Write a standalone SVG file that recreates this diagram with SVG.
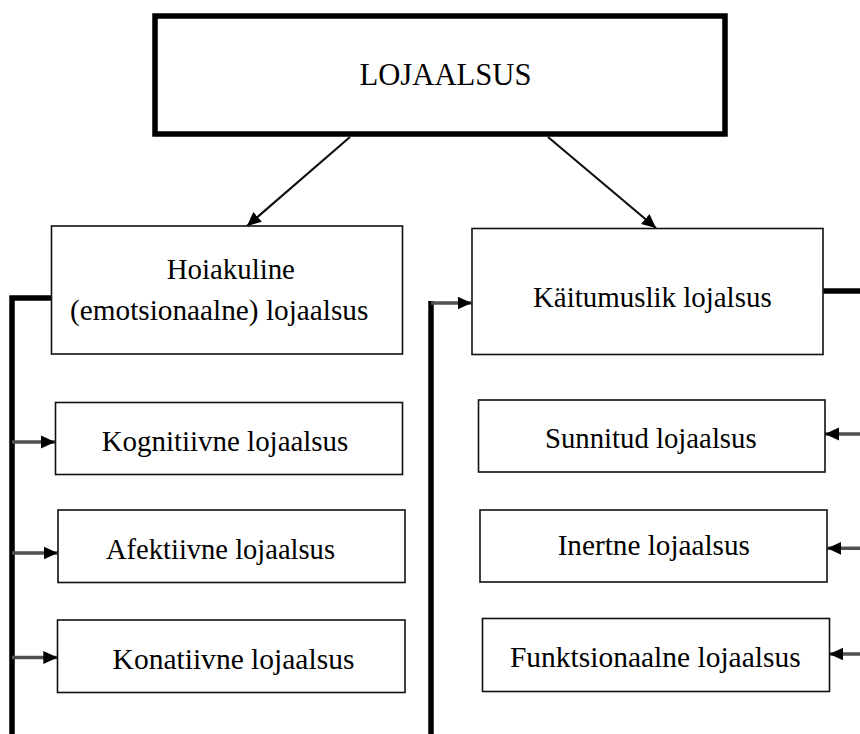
<svg xmlns="http://www.w3.org/2000/svg" width="860" height="734" viewBox="0 0 860 734">
<style>
.box{fill:#fff;stroke:#111;stroke-width:1.6}
.top{fill:#fff;stroke:#000;stroke-width:5.5}
.t{font-family:"Liberation Serif","Times New Roman",serif;font-size:29px;fill:#000;text-anchor:middle}
.thick{fill:none;stroke:#000;stroke-width:5.5}
.thin{fill:none;stroke:#505050;stroke-width:3.5}
.diag{fill:none;stroke:#111;stroke-width:2.2}
</style>
<defs>
<marker id="ah" markerUnits="userSpaceOnUse" markerWidth="14" markerHeight="14" refX="14" refY="7" orient="auto">
<path d="M0,0.5 L14,7 L0,13.5 z" fill="#000"/>
</marker>
<marker id="ad" markerUnits="userSpaceOnUse" markerWidth="14" markerHeight="13" refX="14" refY="6.5" orient="auto">
<path d="M0,0 L14,6.5 L0,13 z" fill="#000"/>
</marker>
</defs>
<rect width="860" height="734" fill="#fff"/>
<g id="connectors">
<line class="diag" x1="350" y1="137" x2="247" y2="226" marker-end="url(#ad)"/>
<line class="diag" x1="548" y1="137" x2="656" y2="228" marker-end="url(#ad)"/>
<path class="thick" d="M51,298 H12 V737 H431 V301"/>
<line class="thin" x1="431" y1="303" x2="471.5" y2="303" marker-end="url(#ah)"/>
<line class="thin" x1="12" y1="442" x2="55" y2="442" marker-end="url(#ah)"/>
<line class="thin" x1="12" y1="553" x2="57.7" y2="553" marker-end="url(#ah)"/>
<line class="thin" x1="12" y1="657.5" x2="57.3" y2="657.5" marker-end="url(#ah)"/>
<path class="thick" d="M823.3,291 H866"/>
<line class="thin" x1="862" y1="434" x2="825" y2="434" marker-end="url(#ah)"/>
<line class="thin" x1="862" y1="548.3" x2="827.3" y2="548.3" marker-end="url(#ah)"/>
<line class="thin" x1="862" y1="654" x2="829.3" y2="654" marker-end="url(#ah)"/>
</g>
<g id="lojaalsus">
<rect class="top" x="155" y="16" width="570" height="118"/>
<text class="t" x="445.5" y="85" style="font-size:31px" textLength="172" lengthAdjust="spacingAndGlyphs">LOJAALSUS</text>
</g>
<g id="hoiakuline">
<rect class="box" x="51.5" y="226" width="351" height="128"/>
<text class="t" x="230.8" y="279.3" textLength="128.3" lengthAdjust="spacingAndGlyphs">Hoiakuline</text>
<text class="t" x="219.2" y="320" textLength="298.3" lengthAdjust="spacingAndGlyphs">(emotsionaalne) lojaalsus</text>
</g>
<g id="kaitumuslik">
<rect class="box" x="472" y="228.5" width="351" height="126"/>
<text class="t" x="652.3" y="307.3" textLength="238.7" lengthAdjust="spacingAndGlyphs">Käitumuslik lojalsus</text>
</g>
<g id="kognitiivne">
<rect class="box" x="55.5" y="402.5" width="347" height="72"/>
<text class="t" x="225" y="451" textLength="246.7" lengthAdjust="spacingAndGlyphs">Kognitiivne lojaalsus</text>
</g>
<g id="afektiivne">
<rect class="box" x="58" y="510" width="347" height="72.5"/>
<text class="t" x="220.5" y="559" textLength="229" lengthAdjust="spacingAndGlyphs">Afektiivne lojaalsus</text>
</g>
<g id="konatiivne">
<rect class="box" x="57.5" y="620" width="347.5" height="72.5"/>
<text class="t" x="233.5" y="669" textLength="241.8" lengthAdjust="spacingAndGlyphs">Konatiivne lojaalsus</text>
</g>
<g id="sunnitud">
<rect class="box" x="478.5" y="400" width="346.5" height="72"/>
<text class="t" x="650.8" y="448.3" textLength="211.7" lengthAdjust="spacingAndGlyphs">Sunnitud lojaalsus</text>
</g>
<g id="inertne">
<rect class="box" x="480" y="510" width="347" height="72"/>
<text class="t" x="653.8" y="555" textLength="192.3" lengthAdjust="spacingAndGlyphs">Inertne lojaalsus</text>
</g>
<g id="funktsionaalne">
<rect class="box" x="482.5" y="618.5" width="347" height="73"/>
<text class="t" x="655.3" y="667.3" textLength="290.7" lengthAdjust="spacingAndGlyphs">Funktsionaalne lojaalsus</text>
</g>
</svg>
